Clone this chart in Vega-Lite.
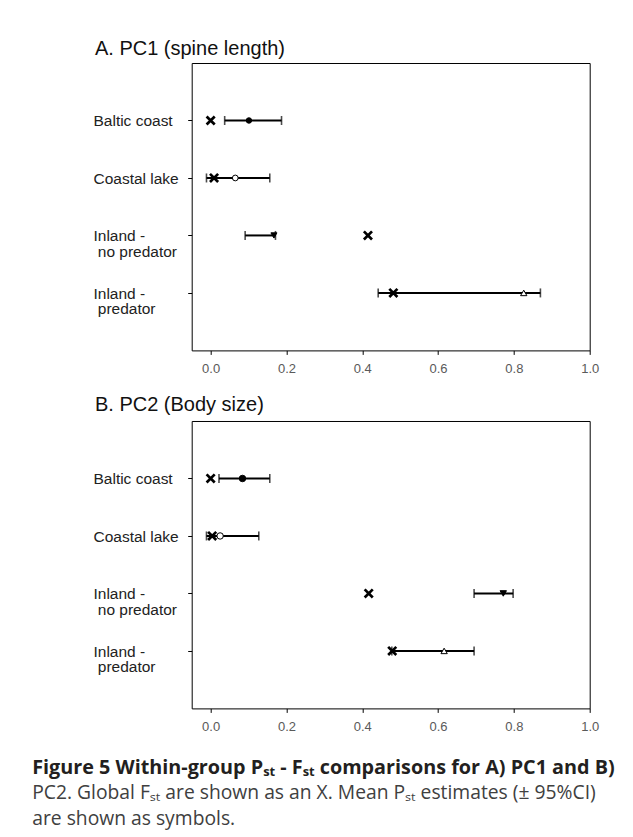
{
  "$schema": "https://vega.github.io/schema/vega-lite/v6.json",
  "background": "white",
  "padding": {"left": 31.7, "top": 38, "right": 10, "bottom": 8},
  "autosize": {"type": "pad"},
  "bounds": "flush",
  "spacing": 70,
  "data": {"values": [
    {"panel": "A", "group": "Baltic coast", "fst": 0.0, "pst": 0.101, "lo": 0.037, "hi": 0.187},
    {"panel": "A", "group": "Coastal lake", "fst": 0.009, "pst": 0.065, "lo": -0.011, "hi": 0.156},
    {"panel": "A", "group": "Inland - no predator", "fst": 0.415, "pst": 0.167, "lo": 0.091, "hi": 0.171},
    {"panel": "A", "group": "Inland - predator", "fst": 0.482, "pst": 0.826, "lo": 0.442, "hi": 0.87},
    {"panel": "B", "group": "Baltic coast", "fst": 0.0, "pst": 0.084, "lo": 0.022, "hi": 0.156},
    {"panel": "B", "group": "Coastal lake", "fst": 0.004, "pst": 0.025, "lo": -0.011, "hi": 0.127},
    {"panel": "B", "group": "Inland - no predator", "fst": 0.417, "pst": 0.772, "lo": 0.695, "hi": 0.798},
    {"panel": "B", "group": "Inland - predator", "fst": 0.479, "pst": 0.616, "lo": 0.478, "hi": 0.695}
  ]},
  "title": {
    "text": "Figure 5 Within-group Pₛₜ - Fₛₜ comparisons for A) PC1 and B)",
    "subtitle": ["PC2. Global Fₛₜ are shown as an X. Mean Pₛₜ estimates (± 95%CI)", "are shown as symbols."],
    "orient": "bottom",
    "anchor": "start",
    "frame": "bounds",
    "dx": -60.3,
    "offset": 23.5,
    "font": "Open Sans",
    "fontSize": 19.8,
    "fontWeight": "bold",
    "color": "#231f20",
    "baseline": "top",
    "lineHeight": 24,
    "subtitleFont": "Open Sans",
    "subtitleFontSize": 19.3,
    "subtitleFontWeight": "normal",
    "subtitleColor": "#404040",
    "subtitleLineHeight": 26.5,
    "subtitlePadding": 6.5
  },
  "vconcat": [
    {
      "title": {"text": "A. PC1 (spine length)", "offset": 4.1},
      "width": 398,
      "height": 287.4,
      "transform": [{"filter": "datum.panel == 'A'"}],
      "encoding": {
        "y": {"field": "group", "type": "nominal",
          "sort": ["Baltic coast", "Coastal lake", "Inland - no predator", "Inland - predator"],
          "scale": {"type": "point", "padding": 1},
          "axis": {"title": null, "labelAlign": "left", "labelPadding": 94.7, "labelFontSize": 15.5, "labelColor": "#222", "labelBaseline": "alphabetic", "labelOffset": 5.5, "labelLineHeight": 15.5, "labelLimit": 0,
            "labelExpr": "datum.label == 'Inland - no predator' ? ['Inland -', '\u200b\u00a0no predator'] : datum.label == 'Inland - predator' ? ['Inland -', '\u200b\u00a0predator'] : datum.label"}
        }
      },
      "layer": [
        {"mark": {"type": "errorbar", "color": "black", "ticks": {"size": 9, "thickness": 1.6, "color": "black"}, "rule": {"strokeWidth": 2, "color": "black"}},
         "encoding": {
           "x": {"field": "lo", "type": "quantitative", "title": null, "scale": {"domain": [-0.05, 1.0], "nice": false, "zero": false},
             "axis": {"values": [0, 0.2, 0.4, 0.6, 0.8, 1.0], "format": ".1f", "labelFontSize": 13, "labelColor": "#5a5a5a", "labelPadding": 8.3, "labelFlush": false}},
           "x2": {"field": "hi"}
         }},
        {"mark": {"type": "point", "shape": "M-1,-1L1,1M1,-1L-1,1", "filled": false, "stroke": "black", "strokeWidth": 2.7, "size": 66, "opacity": 1},
         "encoding": {"x": {"field": "fst", "type": "quantitative", "title": null}}},
        {"mark": {"type": "point", "filled": true, "stroke": "black", "strokeWidth": 1, "opacity": 1},
         "encoding": {
           "x": {"field": "pst", "type": "quantitative", "title": null},
           "shape": {"field": "group", "type": "nominal", "legend": null, "scale": {"domain": ["Baltic coast", "Coastal lake", "Inland - no predator", "Inland - predator"], "range": ["circle", "circle", "triangle-down", "triangle-up"]}},
           "fill": {"field": "group", "type": "nominal", "legend": null, "scale": {"domain": ["Baltic coast", "Coastal lake", "Inland - no predator", "Inland - predator"], "range": ["black", "white", "black", "white"]}},
           "size": {"field": "group", "type": "nominal", "legend": null, "scale": {"domain": ["Baltic coast", "Coastal lake", "Inland - no predator", "Inland - predator"], "range": [30, 40, 60, 110]}}
         }}
      ]
    },
    {
      "title": {"text": "B. PC2 (Body size)", "offset": 6.5},
      "width": 398,
      "height": 287.4,
      "transform": [{"filter": "datum.panel == 'B'"}],
      "encoding": {
        "y": {"field": "group", "type": "nominal",
          "sort": ["Baltic coast", "Coastal lake", "Inland - no predator", "Inland - predator"],
          "scale": {"type": "point", "padding": 1},
          "axis": {"title": null, "labelAlign": "left", "labelPadding": 94.7, "labelFontSize": 15.5, "labelColor": "#222", "labelBaseline": "alphabetic", "labelOffset": 5.5, "labelLineHeight": 15.5, "labelLimit": 0,
            "labelExpr": "datum.label == 'Inland - no predator' ? ['Inland -', '\u200b\u00a0no predator'] : datum.label == 'Inland - predator' ? ['Inland -', '\u200b\u00a0predator'] : datum.label"}
        }
      },
      "layer": [
        {"mark": {"type": "errorbar", "color": "black", "ticks": {"size": 9, "thickness": 1.6, "color": "black"}, "rule": {"strokeWidth": 2, "color": "black"}},
         "encoding": {
           "x": {"field": "lo", "type": "quantitative", "title": null, "scale": {"domain": [-0.05, 1.0], "nice": false, "zero": false},
             "axis": {"values": [0, 0.2, 0.4, 0.6, 0.8, 1.0], "format": ".1f", "labelFontSize": 13, "labelColor": "#5a5a5a", "labelPadding": 8.3, "labelFlush": false}},
           "x2": {"field": "hi"}
         }},
        {"mark": {"type": "point", "shape": "M-1,-1L1,1M1,-1L-1,1", "filled": false, "stroke": "black", "strokeWidth": 2.7, "size": 66, "opacity": 1},
         "encoding": {"x": {"field": "fst", "type": "quantitative", "title": null}}},
        {"mark": {"type": "point", "filled": true, "stroke": "black", "strokeWidth": 1, "opacity": 1},
         "encoding": {
           "x": {"field": "pst", "type": "quantitative", "title": null},
           "shape": {"field": "group", "type": "nominal", "legend": null, "scale": {"domain": ["Baltic coast", "Coastal lake", "Inland - no predator", "Inland - predator"], "range": ["circle", "circle", "triangle-down", "triangle-up"]}},
           "fill": {"field": "group", "type": "nominal", "legend": null, "scale": {"domain": ["Baltic coast", "Coastal lake", "Inland - no predator", "Inland - predator"], "range": ["black", "white", "black", "white"]}},
           "size": {"field": "group", "type": "nominal", "legend": null, "scale": {"domain": ["Baltic coast", "Coastal lake", "Inland - no predator", "Inland - predator"], "range": [42, 40, 60, 110]}}
         }}
      ]
    }
  ],
  "resolve": {"scale": {"shape": "independent", "fill": "independent", "size": "independent"}},
  "config": {
    "font": "Liberation Sans",
    "view": {"stroke": "black", "strokeWidth": 1},
    "axis": {"grid": false, "domain": false, "tickColor": "black", "tickSize": 4, "labelFont": "Liberation Sans"},
    "title": {"font": "Liberation Sans", "fontSize": 20, "fontWeight": "normal", "color": "#111", "anchor": "start", "baseline": "alphabetic", "dx": 2}
  }
}
